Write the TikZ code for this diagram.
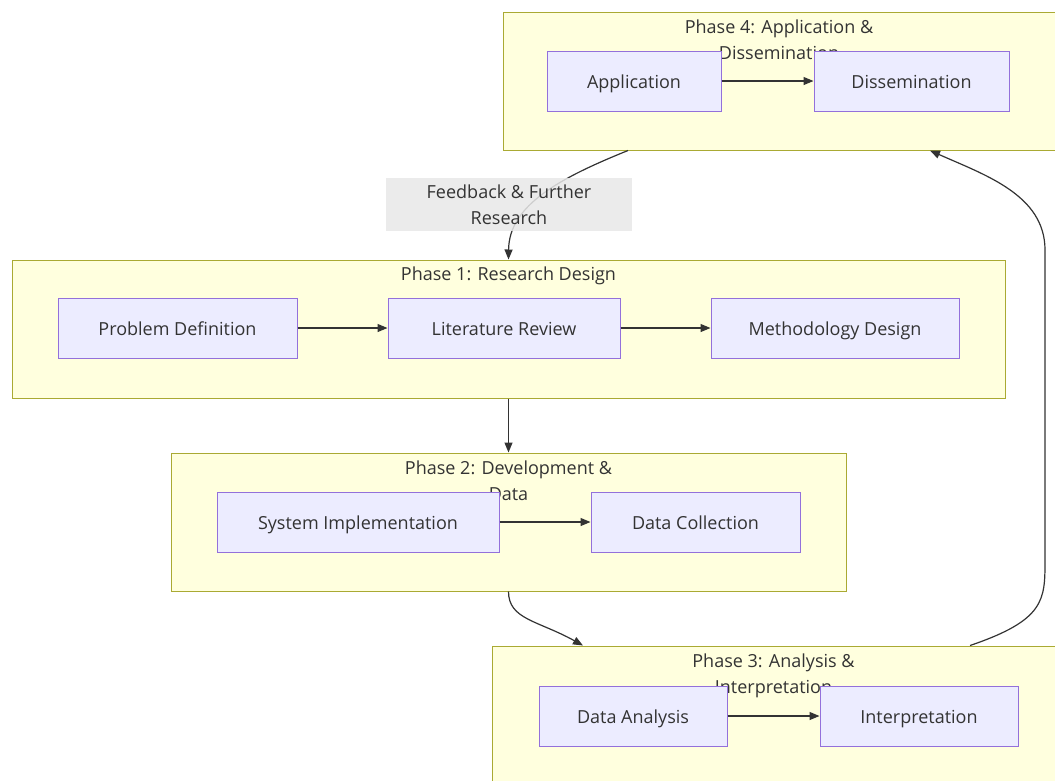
\documentclass[tikz,border=0pt]{standalone}
\usepackage{fontspec}
\setmainfont{Open Sans}
\usetikzlibrary{arrows.meta,calc}
\definecolor{clfill}{HTML}{FFFFDE}
\definecolor{cldraw}{HTML}{AAAA33}
\definecolor{ndfill}{HTML}{ECECFF}
\definecolor{nddraw}{HTML}{9370DB}
\definecolor{ink}{HTML}{333333}
\definecolor{lblfill}{HTML}{E8E8E8}
\begin{document}
\begin{tikzpicture}[x=1pt,y=-1pt,
    font=\fontsize{18}{26}\selectfont, text=ink,
    phase/.style={draw=cldraw,fill=clfill,line width=1pt,inner sep=0pt},
    phasetitle/.style={anchor=north,align=center,inner sep=0pt},
    box/.style={draw=nddraw,fill=ndfill,line width=1pt,minimum height=60pt,inner sep=0pt,text height=15pt,text depth=0pt},
    flow/.style={draw=ink,line width=1.2pt,-{Triangle[length=10pt,width=8pt]}},
    lbl/.style={fill=lblfill,fill opacity=0.85,text opacity=1,align=center,minimum width=246pt,minimum height=53pt,inner sep=0pt}]
    \useasboundingbox (0,0) rectangle (1055,780);

    % the four phases
    \node[phase,minimum width=552pt,minimum height=138pt] (ph4) at (779,81) {};
    \node[phase,minimum width=993pt,minimum height=138pt] (ph1) at (508.5,329) {};
    \node[phase,minimum width=675pt,minimum height=138pt] (ph2) at (508.5,522) {};
    \node[phase,minimum width=563pt,minimum height=138pt] (ph3) at (773.5,715) {};
    \node[phasetitle] (t4) at ([yshift=-8pt]ph4.north) {Phase 4: Application \&\\Dissemination};
    \node[phasetitle] (t1) at ([yshift=-7pt]ph1.north) {Phase 1: Research Design};
    \node[phasetitle] (t2) at ([yshift=-8pt]ph2.north) {Phase 2: Development \&\\Data};
    \node[phasetitle] (t3) at ([yshift=-8pt]ph3.north) {Phase 3: Analysis \&\\Interpretation};

    % steps
    \node[box,minimum width=174pt] (app) at (634,81) {Application};
    \node[box,minimum width=195pt] (diss) at (911.5,81) {Dissemination};
    \node[box,minimum width=239pt] (prob) at (177.5,328) {Problem Definition};
    \node[box,minimum width=232pt] (lit) at (504,328) {Literature Review};
    \node[box,minimum width=248pt] (meth) at (835,328) {Methodology Design};
    \node[box,minimum width=282pt] (sys) at (358,522) {System Implementation};
    \node[box,minimum width=209pt] (coll) at (695.5,522) {Data Collection};
    \node[box,minimum width=188pt] (ana) at (633,716) {Data Analysis};
    \node[box,minimum width=198pt] (interp) at (919,716) {Interpretation};

    \draw[flow] (app) -- (diss);
    \draw[flow] (prob) -- (lit);
    \draw[flow] (lit) -- (meth);
    \draw[flow] (sys) -- (coll);
    \draw[flow] (ana) -- (interp);

    % between the phases
    \draw[flow] (ph1) -- (ph2);
    \draw[flow] (ph2.south) .. controls +(0,28) and +(-45,-25) .. ([xshift=-190.5pt]ph3.north);
    \draw[flow] ([xshift=196.5pt]ph3.north) .. controls (1045,620) and (1045,600) .. (1045,560)
        -- (1045,250) .. controls (1045,195) and (985,175) .. ([xshift=151pt]ph4.south);
    \draw[flow] ([xshift=-151pt]ph4.south) .. controls (560,178) and (509,205) .. (ph1.north);
    \node[lbl] (fb) at (509,204.5) {Feedback \& Further\\Research};
\end{tikzpicture}
\end{document}
